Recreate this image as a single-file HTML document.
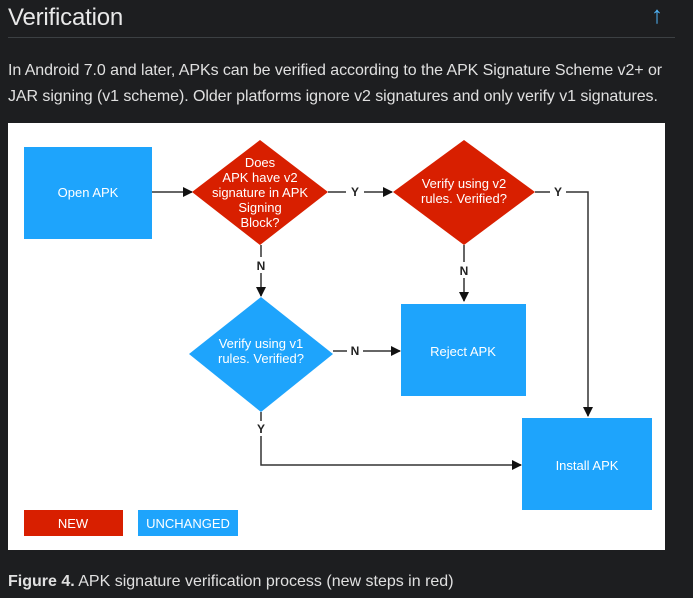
<!DOCTYPE html>
<html><head><meta charset="utf-8"><style>
html,body{margin:0;padding:0;background:#1d1e20;width:693px;height:598px;overflow:hidden;font-family:"Liberation Sans",sans-serif;color:#e8e8e8}
.h{position:absolute;left:8px;top:4px;font-size:24px;font-weight:300;color:#e8e8e8;letter-spacing:-0.2px}
.up{position:absolute;left:651px;top:2px;font-size:24px;color:#4fb3f6}
.rule{position:absolute;left:8px;top:37px;width:667px;height:1px;background:#3c4043}
.p{position:absolute;left:8px;top:58px;font-size:16px;line-height:26px;color:#e0e0e0;letter-spacing:-0.07px;white-space:nowrap}
.cap{position:absolute;left:8px;top:573px;font-size:16px;color:#e0e0e0;letter-spacing:0px}
svg{position:absolute;left:8px;top:123px}
</style></head><body>
<div class="h">Verification</div>
<div class="up">↑</div>
<div class="rule"></div>
<div class="p">In Android 7.0 and later, APKs can be verified according to the APK Signature Scheme v2+ or<br>JAR signing (v1 scheme). Older platforms ignore v2 signatures and only verify v1 signatures.</div>
<svg width="657" height="427" viewBox="8 123 657 427" font-family="Liberation Sans, sans-serif" font-size="13">
<defs><marker id="a" markerWidth="10" markerHeight="10" refX="9" refY="5" orient="auto" markerUnits="userSpaceOnUse"><path d="M0,0L10,5L0,10z" fill="#111"/></marker></defs>
<rect x="8" y="123" width="657" height="427" fill="#fff"/>
<g stroke="#333" stroke-width="1.5" fill="none">
<line x1="152" y1="192" x2="192" y2="192" marker-end="url(#a)"/>
<line x1="328" y1="192" x2="346" y2="192"/><line x1="364" y1="192" x2="392" y2="192" marker-end="url(#a)"/>
<line x1="535" y1="192" x2="550" y2="192"/><polyline points="566,192 588,192 588,416" marker-end="url(#a)"/>
<line x1="261" y1="245" x2="261" y2="257"/><line x1="261" y1="273" x2="261" y2="296" marker-end="url(#a)"/>
<line x1="464" y1="245" x2="464" y2="262"/><line x1="464" y1="278" x2="464" y2="301" marker-end="url(#a)"/>
<line x1="333" y1="351" x2="347" y2="351"/><line x1="363" y1="351" x2="400" y2="351" marker-end="url(#a)"/>
<line x1="261" y1="412" x2="261" y2="421"/><polyline points="261,436 261,465 521,465" marker-end="url(#a)"/>
</g>
<g fill="#222" text-anchor="middle" font-size="12" font-weight="bold">
<text x="355" y="196">Y</text><text x="558" y="196">Y</text>
<text x="261" y="270">N</text><text x="464" y="275">N</text>
<text x="355" y="355">N</text><text x="261" y="433">Y</text>
</g>
<rect x="24" y="147" width="128" height="92" fill="#1ea4fc"/>
<rect x="401" y="304" width="125" height="92" fill="#1ea4fc"/>
<rect x="522" y="418" width="130" height="92" fill="#1ea4fc"/>
<polygon points="260,140 328,192 260,245 192,192" fill="#d81f00"/>
<polygon points="464,140 535,192 464,245 393,192" fill="#d81f00"/>
<polygon points="261,297 333,354 261,412 189,354" fill="#1ea4fc"/>
<rect x="24" y="510" width="99" height="26" fill="#d81f00"/>
<rect x="138" y="510" width="100" height="26" fill="#1ea4fc"/>
<g fill="#fff" text-anchor="middle">
<text x="88" y="197">Open APK</text>
<text x="463" y="356">Reject APK</text>
<text x="587" y="470">Install APK</text>
<text x="260" y="167">Does</text><text x="260" y="182">APK have v2</text><text x="260" y="197">signature in APK</text><text x="260" y="212">Signing</text><text x="260" y="227">Block?</text>
<text x="464" y="188">Verify using v2</text><text x="464" y="203">rules. Verified?</text>
<text x="261" y="348">Verify using v1</text><text x="261" y="363">rules. Verified?</text>
<text x="73" y="528">NEW</text><text x="188" y="528">UNCHANGED</text>
</g>
</svg>
<div class="cap"><b>Figure 4.</b> APK signature verification process (new steps in red)</div>
</body></html>
